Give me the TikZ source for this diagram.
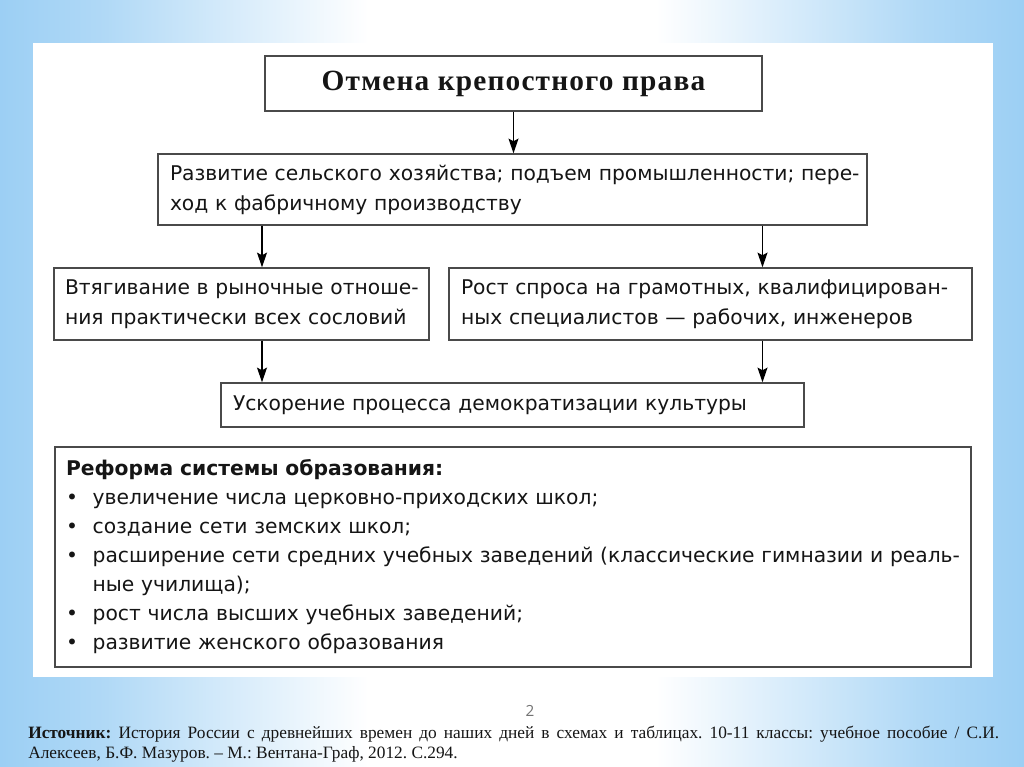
\documentclass[tikz,border=0pt]{standalone}
\usepackage{fontspec}
\setmainfont{Liberation Serif}
\newfontfamily\boxfont{DejaVu Sans}
\newfontfamily\titlefont[LetterSpace=4]{Liberation Serif}
\newfontfamily\numfont{Open Sans}
\usetikzlibrary{arrows.meta}
\definecolor{bgblue}{HTML}{9CCFF4}
\definecolor{boxline}{HTML}{4A4A4A}
\definecolor{txt}{HTML}{151515}
\pgfdeclarehorizontalshading{bgshade}{100bp}{color(0bp)=(bgblue); color(25bp)=(bgblue); color(30bp)=(bgblue!80); color(43bp)=(white); color(57bp)=(white); color(70bp)=(bgblue!80); color(75bp)=(bgblue); color(100bp)=(bgblue)}
\tikzset{
  box/.style={draw=boxline, line width=1.1pt, fill=white, inner ysep=0pt, text=txt},
  sansbox/.style={box, font=\boxfont\fontsize{15.2pt}{22.5pt}\selectfont, align=left},
  arr/.style={draw=black, line width=0.9pt, -{Stealth[length=11pt,width=7.5pt,inset=2pt]}}
}
\begin{document}
\begin{tikzpicture}[x=0.75pt, y=-0.75pt]
\useasboundingbox (0,0) rectangle (1024,767);
\shade[shading=bgshade] (0,0) rectangle (1024,767);
\fill[white] (33,43) rectangle (993,677);

% boxes
\node[box, minimum width={497*0.75pt}, minimum height={55*0.75pt},
      font=\titlefont\bfseries\fontsize{22pt}{24pt}\selectfont] (b1) at (513.5,83.5) {Отмена крепостного права};

\node[sansbox, minimum width={709*0.75pt}, minimum height={71*0.75pt},
      inner xsep={12*0.75pt}, text width={685*0.75pt}] (b2) at (512.5,189.5)
  {\mbox{Развитие сельского хозяйства; подъем промышленности; пере-}\\\mbox{ход к фабричному производству}};

\node[sansbox, minimum width={375*0.75pt}, minimum height={72*0.75pt},
      inner xsep={11*0.75pt}, text width={353*0.75pt}] (b3l) at (241.5,304)
  {\mbox{Втягивание в рыночные отноше-}\\\mbox{ния практически всех сословий}};

\node[sansbox, minimum width={523*0.75pt}, minimum height={72*0.75pt},
      inner xsep={12*0.75pt}, text width={499*0.75pt}] (b3r) at (710.5,304)
  {\mbox{Рост спроса на грамотных, квалифицирован-}\\\mbox{ных специалистов — рабочих, инженеров}};

\node[sansbox, minimum width={583*0.75pt}, minimum height={44*0.75pt},
      inner xsep={12*0.75pt}, text width={559*0.75pt}] (b4) at (512.5,405)
  {\mbox{Ускорение процесса демократизации культуры}};

\node[box, minimum width={916*0.75pt}, minimum height={220*0.75pt},
      inner xsep={11*0.75pt}, text width={894*0.75pt}, align=left,
      font=\boxfont\fontsize{15.2pt}{21.75pt}\selectfont] (b5) at (513,557)
  {{\bfseries Реформа системы образования:}\\
   \makebox[20pt][l]{•}увеличение числа церковно-приходских школ;\\
   \makebox[20pt][l]{•}создание сети земских школ;\\
   \mbox{\makebox[20pt][l]{•}расширение сети средних учебных заведений (классические гимназии и реаль-}\\
   \hspace*{20pt}ные училища);\\
   \makebox[20pt][l]{•}рост числа высших учебных заведений;\\
   \makebox[20pt][l]{•}развитие женского образования};

% connectors
\coordinate (xl) at (262,0);
\coordinate (xr) at (762.5,0);
\draw[arr] (b1.south) -- (b1.south |- b2.north);
\draw[arr] (b2.south -| xl) -- (b3l.north -| xl);
\draw[arr] (b2.south -| xr) -- (b3r.north -| xr);
\draw[arr] (b3l.south -| xl) -- (b4.north -| xl);
\draw[arr] (b3r.south -| xr) -- (b4.north -| xr);

% footer
\node[font=\numfont\fontsize{11.5pt}{12pt}\selectfont, text=black!55] (pg) at (530,711) {2};
\node[anchor=north west, inner sep=0pt, text width={971*0.75pt}, align=justify,
      font=\fontsize{13pt}{15pt}\selectfont, text=txt] (src) at (28,726)
  {\frenchspacing\hyphenpenalty=10000\textbf{Источник:} История России с древнейших времен до наших дней в схемах и таблицах. 10-11 классы: учебное пособие / С.И.\linebreak
   Алексеев, Б.Ф. Мазуров. – М.: Вентана-Граф, 2012. С.294.};
\end{tikzpicture}
\end{document}
